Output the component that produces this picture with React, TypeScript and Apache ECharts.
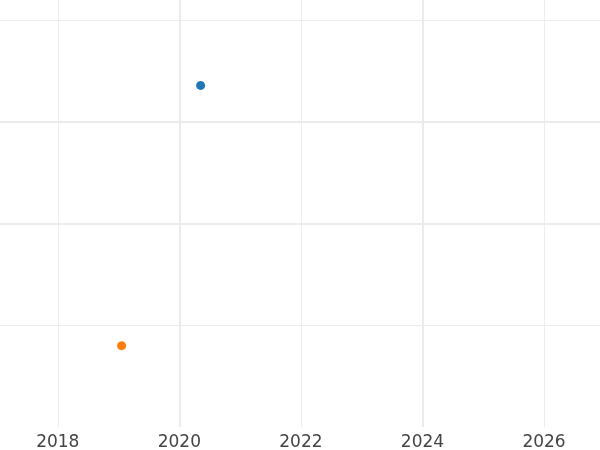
import React, { useEffect, useRef } from "react";
import * as echarts from "echarts";

const xRange = [2017.049, 2026.921];
const yRange = [0, 4.2];
const seriesA = [[2020.35, 3.36]];
const seriesB = [[2019.05, 0.8]];
const majorX = [2020, 2024];
const majorY = [2, 3];
const colors = ["#1f77b4", "#ff7f0e"];

export default function App() {
  const ref = useRef<HTMLDivElement>(null);
  useEffect(() => {
    const chart = echarts.init(ref.current!, null, { renderer: "svg" });
    const grid = "#ededed";
    chart.setOption({
      animation: false,
      grid: { left: 0, right: 0, top: 0, bottom: 23, containLabel: false },
      xAxis: {
        type: "value",
        min: xRange[0],
        max: xRange[1],
        splitNumber: 5,
        axisLine: { show: false },
        axisTick: { show: false },
        axisLabel: {
          showMinLabel: false,
          showMaxLabel: false,
          margin: 5,
          fontFamily: "DejaVu Sans",
          fontSize: 17,
          color: "#444",
          formatter: (v: number) => (Number.isInteger(v) ? String(v) : ""),
        },
        splitLine: {
          show: true,
          lineStyle: { color: ["none", grid, grid, grid, grid, grid, "none"], width: 1 },
        },
      },
      yAxis: {
        type: "value",
        min: yRange[0],
        max: yRange[1],
        interval: 1,
        axisLine: { show: false },
        axisTick: { show: false },
        axisLabel: { show: false },
        splitLine: {
          show: true,
          lineStyle: { color: ["none", grid, grid, grid, grid, "none"], width: 1 },
        },
      },
      series: [
        {
          type: "line",
          data: [],
          z: 1,
          silent: true,
          markLine: {
            silent: true,
            symbol: "none",
            label: { show: false },
            lineStyle: { color: "#ebebeb", width: 2, type: "solid", opacity: 1 },
            data: [
              ...majorX.map((x) => ({ xAxis: x })),
              ...majorY.map((y) => ({ yAxis: y })),
            ],
          },
        },
        {
          type: "scatter",
          data: seriesA,
          symbolSize: 9,
          itemStyle: { color: colors[0], opacity: 1 },
          z: 3,
        },
        {
          type: "scatter",
          data: seriesB,
          symbolSize: 9,
          itemStyle: { color: colors[1], opacity: 1 },
          z: 3,
        },
      ],
    });
    return () => chart.dispose();
  }, []);
  return <div ref={ref} style={{ width: 600, height: 450, position: "fixed", left: 0, top: 0 }} />;
}
